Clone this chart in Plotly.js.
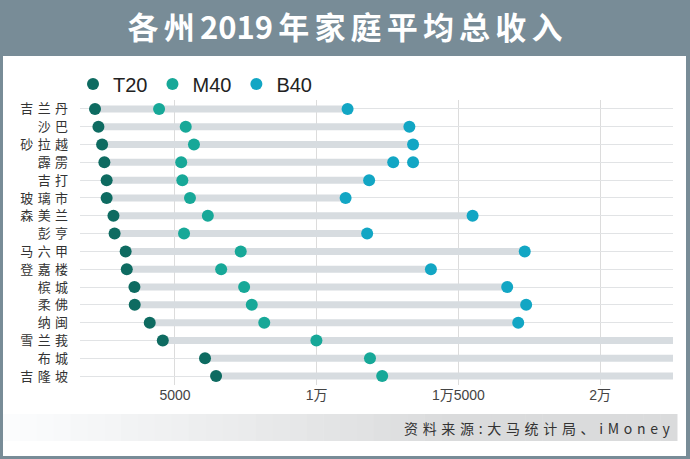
<!DOCTYPE html>
<html>
<head>
<meta charset="utf-8">
<script src="https://cdn.plot.ly/plotly-3.0.1.min.js"></script>
<style>
  html, body { margin: 0; padding: 0; background: #ffffff; }
  #chart { width: 690px; height: 459px; }
</style>
</head>
<body>
<div id="chart"></div>
<script>
// ---- data ----
const states = ['吉兰丹','沙巴','砂拉越','霹雳','吉打','玻璃市','森美兰','彭亨','马六甲','登嘉楼','槟城','柔佛','纳闽','雪兰莪','布城','吉隆坡'];
const t20 = [2180, 2300, 2430, 2510, 2590, 2590, 2830, 2870, 3260, 3300, 3570, 3580, 4110, 4570, 6060, 6450];
const m40 = [4440, 5380, 5670, 5220, 5260, 5530, 6160, 5320, 7320, 6630, 7440, 7710, 8150, 9990, 11880, 12310];
const b40 = [11090, 13270, 13400, 12700, 11850, 11020, 15500, 11780, 17340, 14030, 16720, 17390, 17110, 26000, 28500, 31000];
// the reference shows one extra B40 dot on the 霹雳 row
const extraB40State = ['霹雳'];
const extraB40Value = [13400];
const tickVals = [5000, 10000, 15000, 20000];
const tickText = ['5000', '1万', '1万5000', '2万'];
const seriesNames = ['T20', 'M40', 'B40'];
const titleText = '各州2019年家庭平均总收入';
const sourceText = '资料来源:大马统计局、iMoney';

// ---- styling ----
const colT20 = '#0e6b61';
const colM40 = '#17a898';
const colB40 = '#12a6c4';
const barCol = '#d7dce0';
const slate = '#788c97';

// bars from T20 to B40 (gap-separated line segments)
const barX = [], barY = [];
states.forEach((s, i) => {
  barX.push(t20[i], b40[i], null);
  barY.push(s, s, null);
});

const spaced = s => s.split('').join('\u2004');
// title: small gaps between CJK characters, digits kept together
const spacedTitle = titleText.replace(/(\d+|[^\d])/g, '$1\u2006').replace(/\u2006$/, '');

const traces = [
  { type: 'scatter', mode: 'lines', x: barX, y: barY, connectgaps: false,
    line: { color: barCol, width: 7 }, hoverinfo: 'skip', showlegend: false },
  { type: 'scatter', mode: 'markers', name: seriesNames[0], x: t20, y: states,
    marker: { color: colT20, size: 12 } },
  { type: 'scatter', mode: 'markers', name: seriesNames[1], x: m40, y: states,
    marker: { color: colM40, size: 12 } },
  { type: 'scatter', mode: 'markers', name: seriesNames[2], x: b40.concat(extraB40Value), y: states.concat(extraB40State),
    marker: { color: colB40, size: 12 } }
];

// pixel -> paper helpers (plot area: x 80..673, y 100..385)
const L = 80, R = 17, T = 100, B = 74, W = 690, H = 459;
const pw = W - L - R, ph = H - T - B;
const px = v => (v - L) / pw;
const py = v => (H - B - v) / ph;

const shapes = [
  // white inner panel
  { type: 'rect', xref: 'paper', yref: 'paper', layer: 'below',
    x0: px(3), x1: px(686), y0: py(456), y1: py(56),
    fillcolor: '#ffffff', line: { width: 0 } }
];
// source strip with a soft left-to-right gradient
const steps = 40, gx0 = 3, gx1 = 677;
for (let k = 0; k < steps; k++) {
  const f = (k + 0.5) / steps;
  const c = Math.round(252 - (252 - 218) * Math.min(1, f * 1.5));
  shapes.push({ type: 'rect', xref: 'paper', yref: 'paper', layer: 'below',
    x0: px(gx0 + (gx1 - gx0) * k / steps), x1: px(gx0 + (gx1 - gx0) * (k + 1) / steps + 0.5),
    y0: py(441), y1: py(414),
    fillcolor: `rgb(${c},${Math.min(255, c + 1)},${Math.min(255, c + 2)})`, line: { width: 0 } });
}

const layout = {
  width: W, height: H,
  margin: { l: L, r: R, t: T, b: B, pad: 0 },
  paper_bgcolor: slate,
  plot_bgcolor: 'rgba(0,0,0,0)',
  font: { family: '"Noto Sans CJK SC", "Liberation Sans", sans-serif', color: '#333' },
  title: {
    text: spacedTitle,
    font: { family: '"Noto Sans CJK SC", sans-serif', size: 31, color: '#ffffff', weight: 'bold' },
    x: 0.5, xanchor: 'center', xref: 'container',
    y: 1 - 28 / H, yanchor: 'middle', yref: 'container'
  },
  showlegend: true,
  legend: {
    orientation: 'h', x: px(73), xanchor: 'left', y: py(84), yanchor: 'middle',
    font: { family: '"Liberation Sans", Arial, sans-serif', size: 20, color: '#222' },
    bgcolor: 'rgba(0,0,0,0)', traceorder: 'normal'
  },
  xaxis: {
    range: [1650, 22570], tickvals: tickVals, ticktext: tickText,
    showgrid: true, gridcolor: '#dcdcdc', gridwidth: 1, zeroline: false,
    showline: false, ticks: '',
    tickfont: { family: '"Liberation Sans", "Noto Sans CJK SC", sans-serif', size: 14, color: '#444' }
  },
  yaxis: {
    type: 'category', categoryorder: 'array', categoryarray: states,
    range: [15.5, -0.5],
    tickvals: states, ticktext: states.map(spaced),
    showgrid: true, gridcolor: '#e1e3e5', gridwidth: 1, zeroline: false,
    showline: false, ticks: '', ticklabelstandoff: 11,
    tickfont: { family: '"Noto Sans CJK SC", sans-serif', size: 13, color: '#333' }
  },
  shapes: shapes,
  annotations: [
    { xref: 'paper', yref: 'paper', x: px(673), y: py(428), xanchor: 'right', yanchor: 'middle',
      text: sourceText.split('').join('\u2004'), showarrow: false,
      font: { family: '"Noto Sans CJK SC", "Liberation Serif", serif', size: 14, color: '#333' } }
  ]
};

Plotly.newPlot('chart', traces, layout, { displayModeBar: false, staticPlot: true });
</script>
</body>
</html>
